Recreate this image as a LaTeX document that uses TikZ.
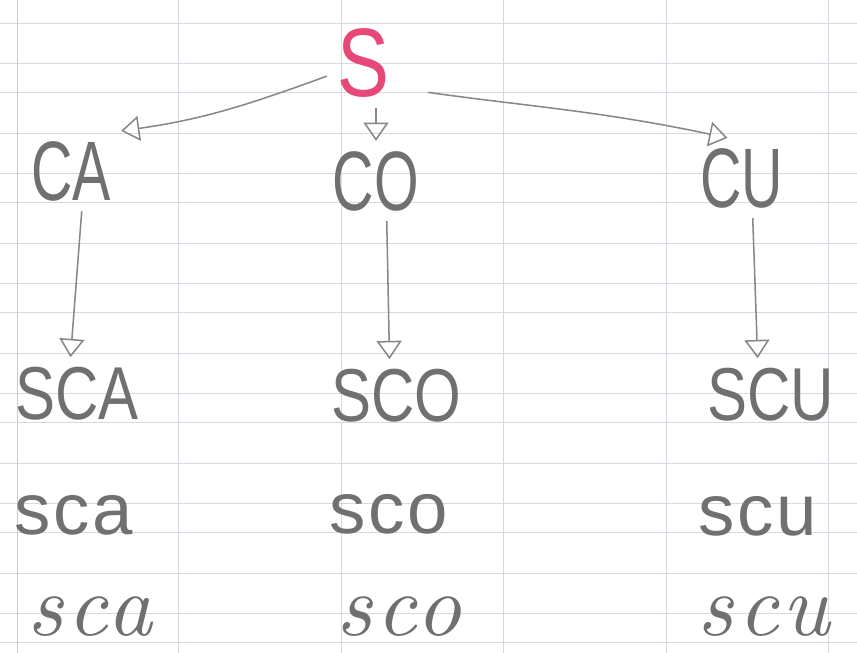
\documentclass[tikz,border=0pt]{standalone}
\usepackage{fontspec}
\usepackage{tikz}
\usetikzlibrary{arrows.meta, positioning}

\newfontfamily\handcap{Liberation Sans}[FakeStretch=0.68]
\newfontfamily\handsub{Liberation Sans}[FakeStretch=0.8]
\newfontfamily\handlow{Liberation Sans}[LetterSpace=4]
\newfontfamily\handit{lmroman10-italic.otf}[LetterSpace=5]

\definecolor{pencil}{RGB}{112,112,112}
\definecolor{lead}{RGB}{135,135,135}
\definecolor{rose}{RGB}{232,72,120}
\definecolor{rule}{RGB}{216,216,226}
\definecolor{margin}{RGB}{208,192,236}

\begin{document}
\begin{tikzpicture}[x=0.03cm, y=-0.03cm,
	root/.style={text=rose, inner sep=0.3cm, font=\handsub\fontsize{83}{83}\selectfont},
	syl/.style={text=pencil, inner sep=0.3cm, font=\handcap\fontsize{72}{72}\selectfont},
	word/.style={text=pencil, inner sep=0.3cm, font=\handsub\fontsize{64}{64}\selectfont},
	low/.style={text=pencil, inner sep=1pt, font=\handlow\fontsize{62}{62}\selectfont},
	cursive/.style={text=pencil, inner sep=1pt, font=\handit\fontsize{75}{75}\selectfont},
	arr/.style={draw=lead, line width=1.3pt, -{Triangle[open, length=0.55cm, width=0.75cm]}}]
	     \useasboundingbox (0,0) rectangle (857,653);
	     \fill[white] (0,0) rectangle (857,653);

	     % paper %
		 \foreach \k in {0,...,5}
		   \foreach \d in {0,40,69}
		     \draw[rule, line width=0.8pt] (0,{23+110*\k+\d}) -- (857,{23+110*\k+\d});
		 \foreach \vx in {178,341,503,666,828}
		   \draw[rule, line width=0.8pt] (\vx,0) -- (\vx,653);
		 \draw[margin, line width=0.8pt] (17,0) -- (17,653);

	     % nodes %
		 \node[root] (S) at (363,63) {S};
		 \node[syl] (CA) at (71,171) {CA};
		 \node[syl] (CO) at (376,181) {CO};
		 \node[syl] (CU) at (742,178) {CU};
		 \node[word] (SCA) at (77,394) {SCA};
		 \node[word] (SCO) at (396,396) {SCO};
		 \node[word] (SCU) at (771,395) {SCU};
		 \node[low] (sca2) at (74,515) {sca};
		 \node[low] (sco2) at (389,514) {sco};
		 \node[low] (scu2) at (758,516) {scu};
		 \node[cursive] (sca3) at (90,617) {sca};
		 \node[cursive] (sco3) at (399,617) {sco};
		 \node[cursive] (scu3) at (764,617) {scu};

	     % edges %
		 \draw[arr] (S.200) to[out=200, in=8] (CA.north east);
		 \draw[arr] (S.south -| CO.north) -- (CO.north);
		 \draw[arr, shorten <=25pt] (S.-35) to[out=-8, in=168] (CU.110);
		 \draw[arr] (CA.-75) -- (SCA.100);
		 \draw[arr] (CO.-75) -- (SCO.100);
		 \draw[arr] (CU.-75) -- (SCU.110);
	     \end{tikzpicture}
\end{document}
